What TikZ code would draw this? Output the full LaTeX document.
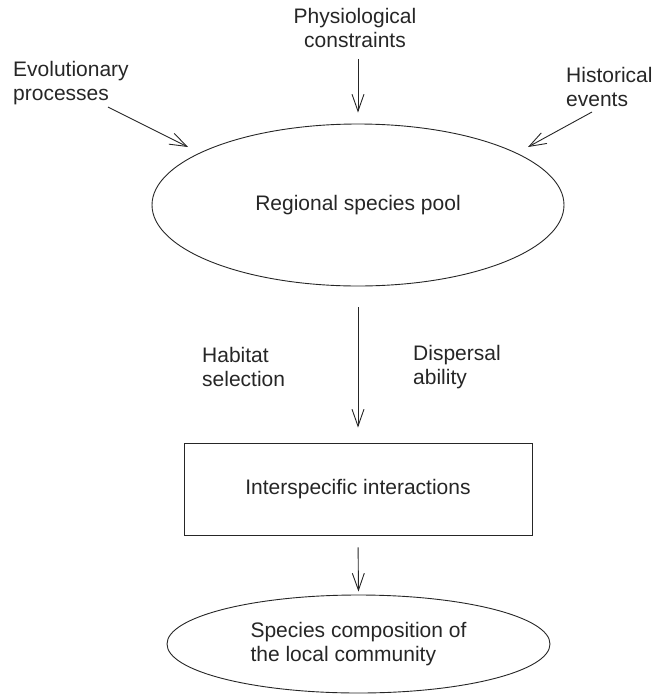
\documentclass[tikz,border=0pt]{standalone}
\usepackage{fontspec}
\setmainfont{Liberation Sans}
\usetikzlibrary{arrows.meta,shapes.geometric}
\definecolor{ink}{HTML}{262626}
\begin{document}
\begin{tikzpicture}[x=1pt,y=-1pt,
  every node/.style={text=ink,font=\fontsize{21}{24}\selectfont,inner sep=0pt},
  lbl/.style={align=left,anchor=west},
  oval/.style={ellipse,draw=ink,line width=0.9pt},
  boxnode/.style={rectangle,draw=ink,line width=0.9pt},
  arr/.style={draw=ink,line width=0.9pt,-{Straight Barb[length=17pt,width=12pt,line width=0.9pt]}}]
\useasboundingbox (0,0) rectangle (655,694);
% nodes
\node[oval,minimum width=412pt,minimum height=162pt] (pool) at (358,205) {Regional species pool};
\node[boxnode,minimum width=348pt,minimum height=92pt] (inter) at (358,489) {Interspecific interactions};
\node[oval,minimum width=383pt,minimum height=98pt,align=left] (local) at (358.5,644) {Species composition of\\the local community};
\node[lbl] (evo) at (13,83) {Evolutionary\\processes};
\node[align=center] (phys) at (355,28) {Physiological\\constraints};
\node[lbl] (hist) at (566,87) {Historical\\events};
\node[lbl] (hab) at (202,367) {Habitat\\selection};
\node[lbl] (disp) at (413,367) {Dispersal\\ability};
% arrow end points
\coordinate (evoS) at (108,107);
\coordinate (evoE) at (188,147);
\coordinate (histS) at (592,112);
\coordinate (histE) at (528,147);
% connectors
\draw[arr] (evoS) -- (evoE);
\draw[arr] (histS) -- (histE);
\draw[arr,shorten <=11pt,shorten >=11pt] (phys.south -| pool.north) -- (pool.north);
\draw[arr,shorten <=21pt,shorten >=15pt] (pool.south) -- (inter.north);
\draw[arr,shorten <=12pt,shorten >=3pt] (inter.south) -- (local.north);
\end{tikzpicture}
\end{document}
